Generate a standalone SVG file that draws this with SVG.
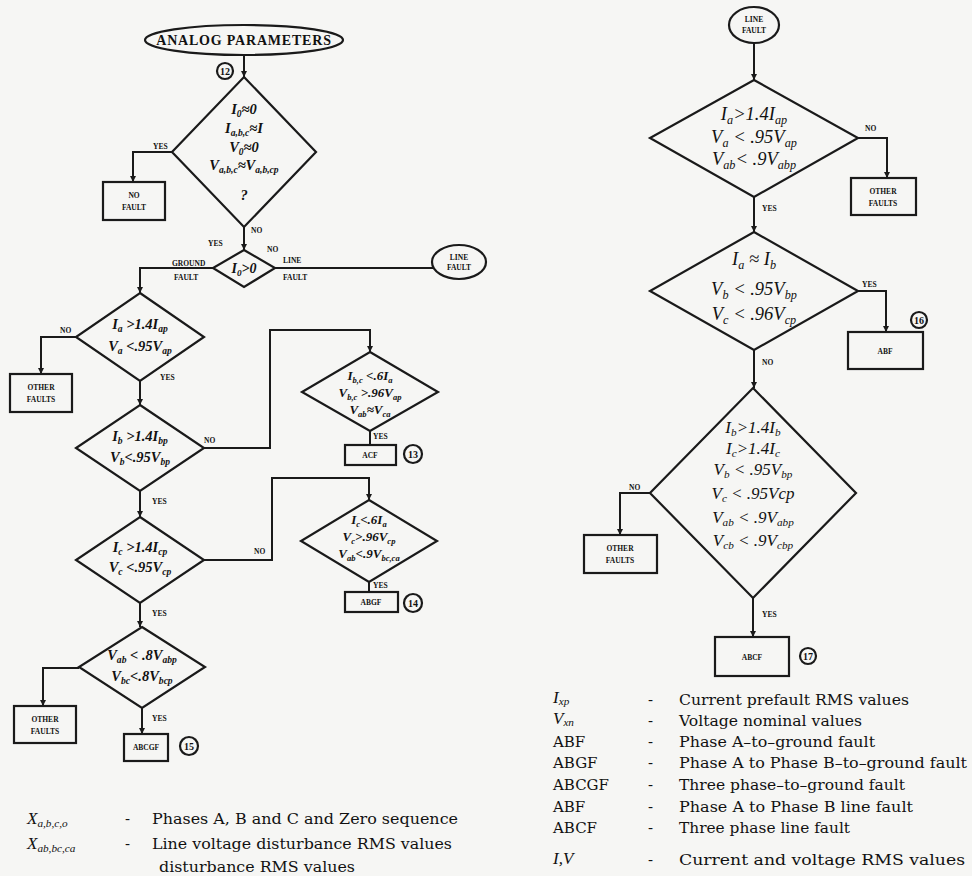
<svg xmlns="http://www.w3.org/2000/svg" width="972" height="876" viewBox="0 0 972 876">
<style>
.ln{fill:none;stroke:#1a1a1a;stroke-width:2}
.sh{fill:none;stroke:#1a1a1a;stroke-width:2.2}
.m{font-family:"Liberation Serif","DejaVu Serif",serif;font-style:italic;text-anchor:middle;fill:#111}
.m13{font-size:14.5px;font-weight:bold}
.m12{font-size:13px;font-weight:bold}
.m17{font-size:18.5px}
.s{font-size:66%}
.lb{font-family:"Liberation Serif","DejaVu Serif",serif;font-weight:bold;font-size:7.5px;fill:#111}
.bx{font-family:"Liberation Serif","DejaVu Serif",serif;font-weight:bold;font-size:7.5px;fill:#111;text-anchor:middle}
.ti{font-family:"Liberation Serif","DejaVu Serif",serif;font-size:14px;font-weight:bold;fill:#111;text-anchor:middle;letter-spacing:0.8px}
.num{font-family:"Liberation Serif","DejaVu Serif",serif;font-size:10px;font-weight:bold;fill:#111;text-anchor:middle}
.lg{font-family:"DejaVu Serif","Liberation Serif",serif;font-size:15px;fill:#111}
.lgi{font-family:"Liberation Serif","DejaVu Serif",serif;font-size:17px;font-style:italic;fill:#111}
</style>
<defs>
<marker id="ar" viewBox="0 0 8 8" refX="8" refY="4" markerWidth="6" markerHeight="6" orient="auto" markerUnits="userSpaceOnUse">
<path d="M0,0 L8,4 L0,8 z" fill="#1a1a1a"/>
</marker>
</defs>
<rect width="972" height="876" fill="#f6f6f4"/>

<g id="connectors">
<path class="ln" d="M244,55 V77" marker-end="url(#ar)"/>
<path class="ln" d="M172,152 H133 V182" marker-end="url(#ar)"/>
<path class="ln" d="M244,227 V250" marker-end="url(#ar)"/>
<path class="ln" d="M213,268 H140 V293" marker-end="url(#ar)"/>
<path class="ln" d="M275,268 H434"/>
<path class="ln" d="M76,337 H41 V374" marker-end="url(#ar)"/>
<path class="ln" d="M140,381 V405" marker-end="url(#ar)"/>
<path class="ln" d="M203,448 H270 V330 H370 V352" marker-end="url(#ar)"/>
<path class="ln" d="M370,431 V445"/>
<path class="ln" d="M140,491 V517" marker-end="url(#ar)"/>
<path class="ln" d="M203,560 H272 V478 H369 V500" marker-end="url(#ar)"/>
<path class="ln" d="M369,582 V592"/>
<path class="ln" d="M140,603 V627" marker-end="url(#ar)"/>
<path class="ln" d="M79,668 H43 V706" marker-end="url(#ar)"/>
<path class="ln" d="M142,708 V734" marker-end="url(#ar)"/>
<path class="ln" d="M754,43 V80" marker-end="url(#ar)"/>
<path class="ln" d="M858,138 H887 V178" marker-end="url(#ar)"/>
<path class="ln" d="M754,197 V232" marker-end="url(#ar)"/>
<path class="ln" d="M858,291 H886 V332" marker-end="url(#ar)"/>
<path class="ln" d="M754,350 V388" marker-end="url(#ar)"/>
<path class="ln" d="M650,493 H620 V535" marker-end="url(#ar)"/>
<path class="ln" d="M753,598 V637" marker-end="url(#ar)"/>
</g>

<g id="labels">
<text class="lb" x="153" y="149">YES</text>
<text class="lb" x="251" y="233">NO</text>
<text class="lb" x="208" y="246">YES</text>
<text class="lb" x="267" y="252">NO</text>
<text class="lb" x="172" y="266">GROUND</text>
<text class="lb" x="174" y="280">FAULT</text>
<text class="lb" x="283" y="263">LINE</text>
<text class="lb" x="283" y="280">FAULT</text>
<text class="lb" x="60" y="333">NO</text>
<text class="lb" x="160" y="380">YES</text>
<text class="lb" x="204" y="443">NO</text>
<text class="lb" x="152" y="504">YES</text>
<text class="lb" x="373" y="439">YES</text>
<text class="lb" x="254" y="554">NO</text>
<text class="lb" x="152" y="616">YES</text>
<text class="lb" x="373" y="588">YES</text>
<text class="lb" x="152" y="721">YES</text>
<text class="lb" x="865" y="131">NO</text>
<text class="lb" x="762" y="211">YES</text>
<text class="lb" x="862" y="287">YES</text>
<text class="lb" x="762" y="365">NO</text>
<text class="lb" x="629" y="490">NO</text>
<text class="lb" x="762" y="617">YES</text>
</g>

<g id="n-analog">
<ellipse class="sh" cx="244" cy="40" rx="99" ry="15"/>
<text class="ti" x="244" y="45">ANALOG  PARAMETERS</text>
<circle class="sh" cx="225" cy="71" r="8" stroke-width="1.6"/>
<text class="num" x="225" y="75">12</text>
</g>

<g id="n-d1">
<polygon class="sh" points="244,77 316,152 244,227 172,152"/>
<text class="m m13" x="244" y="114">I<tspan class="s" dy="3">0</tspan><tspan dy="-3">≈0</tspan></text>
<text class="m m13" x="244" y="133">I<tspan class="s" dy="3">a,b,c</tspan><tspan dy="-3">≈I</tspan></text>
<text class="m m13" x="244" y="152">V<tspan class="s" dy="3">0</tspan><tspan dy="-3">≈0</tspan></text>
<text class="m m13" x="244" y="170">V<tspan class="s" dy="3">a,b,c</tspan><tspan dy="-3">≈V</tspan><tspan class="s" dy="3">a,b,cp</tspan></text>
<text class="m m13" x="244" y="200">?</text>
</g>

<g id="n-nofault">
<rect class="sh" x="103" y="182" width="62" height="38"/>
<text class="bx" x="134" y="198">NO</text>
<text class="bx" x="134" y="210">FAULT</text>
</g>

<g id="n-i0">
<polygon class="sh" points="244,250 275,268 244,287 213,268"/>
<text class="m" font-size="14" font-weight="bold" x="244" y="273">I<tspan class="s" dy="3">0</tspan><tspan dy="-3">&gt;0</tspan></text>
</g>

<g id="n-linefault-l">
<ellipse class="sh" cx="459" cy="262" rx="27" ry="17"/>
<text class="bx" x="459" y="260">LINE</text>
<text class="bx" x="459" y="270">FAULT</text>
</g>

<g id="n-d2">
<polygon class="sh" points="140,293 204,337 140,381 76,337"/>
<text class="m m13" x="140" y="329">I<tspan class="s" dy="3">a</tspan><tspan dy="-3"> &gt;1.4I</tspan><tspan class="s" dy="3">ap</tspan></text>
<text class="m m13" x="140" y="351">V<tspan class="s" dy="3">a</tspan><tspan dy="-3"> &lt;.95V</tspan><tspan class="s" dy="3">ap</tspan></text>
</g>

<g id="n-other1">
<rect class="sh" x="10" y="374" width="62" height="38"/>
<text class="bx" x="41" y="390">OTHER</text>
<text class="bx" x="41" y="402">FAULTS</text>
</g>

<g id="n-d3">
<polygon class="sh" points="140,405 204,448 140,491 76,448"/>
<text class="m m13" x="140" y="441">I<tspan class="s" dy="3">b</tspan><tspan dy="-3"> &gt;1.4I</tspan><tspan class="s" dy="3">bp</tspan></text>
<text class="m m13" x="140" y="462">V<tspan class="s" dy="3">b</tspan><tspan dy="-3">&lt;.95V</tspan><tspan class="s" dy="3">bp</tspan></text>
</g>

<g id="n-d4">
<polygon class="sh" points="370,352 438,392 370,431 302,392"/>
<text class="m m12" x="370" y="380">I<tspan class="s" dy="2.5">b,c</tspan><tspan dy="-2.5"> &lt;.6I</tspan><tspan class="s" dy="2.5">a</tspan></text>
<text class="m m12" x="370" y="397">V<tspan class="s" dy="2.5">b,c</tspan><tspan dy="-2.5"> &gt;.96V</tspan><tspan class="s" dy="2.5">ap</tspan></text>
<text class="m m12" x="370" y="414">V<tspan class="s" dy="2.5">ab</tspan><tspan dy="-2.5">≈V</tspan><tspan class="s" dy="2.5">ca</tspan></text>
</g>

<g id="n-acf">
<rect class="sh" x="345" y="445" width="51" height="20"/>
<text class="bx" x="370" y="458">ACF</text>
<circle class="sh" cx="413" cy="454" r="9" stroke-width="1.6"/>
<text class="num" x="413" y="458">13</text>
</g>

<g id="n-d5">
<polygon class="sh" points="140,517 204,560 140,603 76,560"/>
<text class="m m13" x="140" y="552">I<tspan class="s" dy="3">c</tspan><tspan dy="-3"> &gt;1.4I</tspan><tspan class="s" dy="3">cp</tspan></text>
<text class="m m13" x="140" y="572">V<tspan class="s" dy="3">c</tspan><tspan dy="-3"> &lt;.95V</tspan><tspan class="s" dy="3">cp</tspan></text>
</g>

<g id="n-d6">
<polygon class="sh" points="369,500 437,541 369,582 301,541"/>
<text class="m m12" x="369" y="524">I<tspan class="s" dy="2.5">c</tspan><tspan dy="-2.5">&lt;.6I</tspan><tspan class="s" dy="2.5">a</tspan></text>
<text class="m m12" x="369" y="541">V<tspan class="s" dy="2.5">c</tspan><tspan dy="-2.5">&gt;.96V</tspan><tspan class="s" dy="2.5">cp</tspan></text>
<text class="m m12" x="369" y="558">V<tspan class="s" dy="2.5">ab</tspan><tspan dy="-2.5">&lt;.9V</tspan><tspan class="s" dy="2.5">bc,ca</tspan></text>
</g>

<g id="n-abgf">
<rect class="sh" x="345" y="592" width="53" height="20"/>
<text class="bx" x="371" y="605">ABGF</text>
<circle class="sh" cx="413" cy="603" r="9" stroke-width="1.6"/>
<text class="num" x="413" y="607">14</text>
</g>

<g id="n-d7">
<polygon class="sh" points="142,627 205,667 142,708 79,667"/>
<text class="m m13" x="142" y="660">V<tspan class="s" dy="3">ab</tspan><tspan dy="-3"> &lt; .8V</tspan><tspan class="s" dy="3">abp</tspan></text>
<text class="m m13" x="142" y="681">V<tspan class="s" dy="3">bc</tspan><tspan dy="-3">&lt;.8V</tspan><tspan class="s" dy="3">bcp</tspan></text>
</g>

<g id="n-other2">
<rect class="sh" x="14" y="706" width="62" height="37"/>
<text class="bx" x="45" y="722">OTHER</text>
<text class="bx" x="45" y="734">FAULTS</text>
</g>

<g id="n-abcgf">
<rect class="sh" x="124" y="734" width="44" height="27"/>
<text class="bx" x="146" y="750">ABCGF</text>
<circle class="sh" cx="189" cy="746" r="9" stroke-width="1.6"/>
<text class="num" x="189" y="750">15</text>
</g>

<g id="n-linefault-r">
<ellipse class="sh" cx="754" cy="25" rx="25" ry="18"/>
<text class="bx" x="754" y="22">LINE</text>
<text class="bx" x="754" y="33">FAULT</text>
</g>

<g id="n-r1">
<polygon class="sh" points="754,80 858,138 754,197 650,138"/>
<text class="m m17" x="754" y="120">I<tspan class="s" dy="4">a</tspan><tspan dy="-4">&gt;1.4I</tspan><tspan class="s" dy="4">ap</tspan></text>
<text class="m m17" x="754" y="143">V<tspan class="s" dy="4">a</tspan><tspan dy="-4"> &lt; .95V</tspan><tspan class="s" dy="4">ap</tspan></text>
<text class="m m17" x="754" y="165">V<tspan class="s" dy="4">ab</tspan><tspan dy="-4">&lt; .9V</tspan><tspan class="s" dy="4">abp</tspan></text>
</g>

<g id="n-other3">
<rect class="sh" x="851" y="178" width="65" height="37"/>
<text class="bx" x="883" y="194">OTHER</text>
<text class="bx" x="883" y="206">FAULTS</text>
</g>

<g id="n-r2">
<polygon class="sh" points="754,232 858,291 754,350 650,291"/>
<text class="m m17" x="754" y="265">I<tspan class="s" dy="4">a</tspan><tspan dy="-4"> ≈ I</tspan><tspan class="s" dy="4">b</tspan></text>
<text class="m m17" x="754" y="295">V<tspan class="s" dy="4">b</tspan><tspan dy="-4"> &lt; .95V</tspan><tspan class="s" dy="4">bp</tspan></text>
<text class="m m17" x="754" y="320">V<tspan class="s" dy="4">c</tspan><tspan dy="-4"> &lt; .96V</tspan><tspan class="s" dy="4">cp</tspan></text>
</g>

<g id="n-abf">
<rect class="sh" x="848" y="332" width="75" height="37"/>
<text class="bx" x="885" y="354">ABF</text>
<circle class="sh" cx="919" cy="320" r="8" stroke-width="1.6"/>
<text class="num" x="919" y="324">16</text>
</g>

<g id="n-r3">
<polygon class="sh" points="753,388 856,493 753,598 650,493"/>
<text class="m" font-size="17" x="753" y="433">I<tspan class="s" dy="3">b</tspan><tspan dy="-3">&gt;1.4I</tspan><tspan class="s" dy="3">b</tspan></text>
<text class="m" font-size="17" x="753" y="454">I<tspan class="s" dy="3">c</tspan><tspan dy="-3">&gt;1.4I</tspan><tspan class="s" dy="3">c</tspan></text>
<text class="m" font-size="17" x="753" y="475">V<tspan class="s" dy="3">b</tspan><tspan dy="-3"> &lt; .95V</tspan><tspan class="s" dy="3">bp</tspan></text>
<text class="m" font-size="17" x="753" y="499">V<tspan class="s" dy="3">c</tspan><tspan dy="-3"> &lt; .95Vcp</tspan></text>
<text class="m" font-size="17" x="753" y="523">V<tspan class="s" dy="3">ab</tspan><tspan dy="-3"> &lt; .9V</tspan><tspan class="s" dy="3">abp</tspan></text>
<text class="m" font-size="17" x="753" y="546">V<tspan class="s" dy="3">cb</tspan><tspan dy="-3"> &lt; .9V</tspan><tspan class="s" dy="3">cbp</tspan></text>
</g>

<g id="n-other4">
<rect class="sh" x="584" y="535" width="73" height="38"/>
<text class="bx" x="620" y="551">OTHER</text>
<text class="bx" x="620" y="563">FAULTS</text>
</g>

<g id="n-abcf">
<rect class="sh" x="715" y="637" width="74" height="39"/>
<text class="bx" x="752" y="660">ABCF</text>
<circle class="sh" cx="808" cy="656" r="8" stroke-width="1.6"/>
<text class="num" x="808" y="660">17</text>
</g>

<g id="legend-left">
<text class="lgi" x="27" y="824">X<tspan class="s" dy="3">a,b,c,o</tspan></text>
<text class="lg" x="125" y="824">-</text>
<text class="lg" x="152" y="824" textLength="306" lengthAdjust="spacingAndGlyphs">Phases A, B and C and Zero sequence</text>
<text class="lgi" x="27" y="849">X<tspan class="s" dy="3">ab,bc,ca</tspan></text>
<text class="lg" x="125" y="849">-</text>
<text class="lg" x="152" y="849" textLength="300" lengthAdjust="spacingAndGlyphs">Line voltage disturbance RMS values</text>
<text class="lg" x="159" y="872" textLength="196" lengthAdjust="spacingAndGlyphs">disturbance RMS values</text>
</g>

<g id="legend-right">
<text class="lgi" x="553" y="703">I<tspan class="s" dy="2">xp</tspan></text>
<text class="lg" x="648" y="705">-</text>
<text class="lg" x="679" y="705" textLength="230" lengthAdjust="spacingAndGlyphs">Current prefault RMS values</text>
<text class="lgi" x="553" y="724">V<tspan class="s" dy="2">xn</tspan></text>
<text class="lg" x="648" y="726">-</text>
<text class="lg" x="679" y="726" textLength="183" lengthAdjust="spacingAndGlyphs">Voltage nominal values</text>
<text class="lg" x="553" y="747">ABF</text>
<text class="lg" x="648" y="747">-</text>
<text class="lg" x="679" y="747" textLength="196" lengthAdjust="spacingAndGlyphs">Phase A–to–ground fault</text>
<text class="lg" x="553" y="768">ABGF</text>
<text class="lg" x="648" y="768">-</text>
<text class="lg" x="679" y="768" textLength="288" lengthAdjust="spacingAndGlyphs">Phase A to Phase B–to–ground fault</text>
<text class="lg" x="553" y="790">ABCGF</text>
<text class="lg" x="648" y="790">-</text>
<text class="lg" x="679" y="790" textLength="226" lengthAdjust="spacingAndGlyphs">Three phase–to–ground fault</text>
<text class="lg" x="553" y="812">ABF</text>
<text class="lg" x="648" y="812">-</text>
<text class="lg" x="679" y="812" textLength="234" lengthAdjust="spacingAndGlyphs">Phase A to Phase B line fault</text>
<text class="lg" x="553" y="833">ABCF</text>
<text class="lg" x="648" y="833">-</text>
<text class="lg" x="679" y="833" textLength="171" lengthAdjust="spacingAndGlyphs">Three phase line fault</text>
<text class="lgi" x="553" y="864">I,V</text>
<text class="lg" x="648" y="865">-</text>
<text class="lg" x="679" y="865" textLength="286" lengthAdjust="spacingAndGlyphs">Current and voltage RMS values</text>
</g>
</svg>
